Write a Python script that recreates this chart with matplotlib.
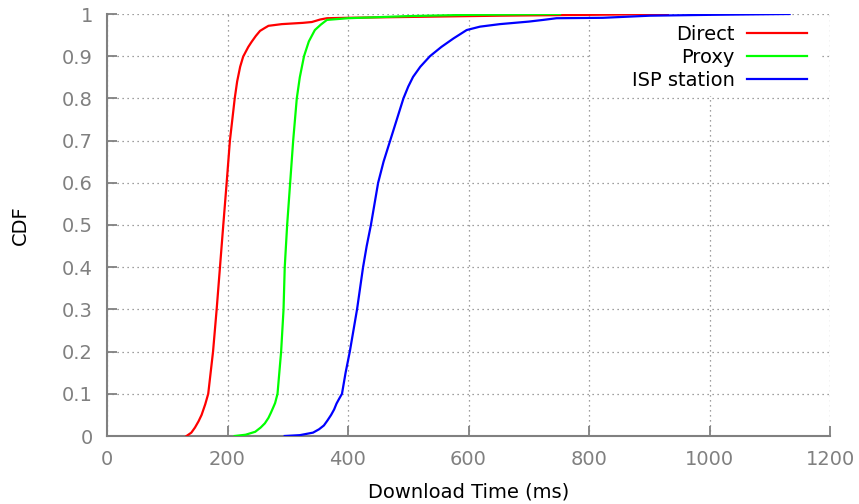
import matplotlib
matplotlib.use('Agg')
import matplotlib.pyplot as plt
from matplotlib.patches import Rectangle

# CDF curves (download time in ms, cumulative fraction)
direct_ms = [132, 140, 146, 152, 157, 163, 168, 172, 176, 182, 187.5, 193, 198.6, 204, 208,
             212, 216, 221, 226, 234.5, 240, 247, 254, 262, 268, 290, 325, 340, 354, 365,
             400, 500, 650, 800, 931]
direct_cdf = [0, 0.008, 0.02, 0.035, 0.05, 0.075, 0.1, 0.15, 0.2, 0.3, 0.4, 0.5, 0.6, 0.7,
              0.75, 0.8, 0.84, 0.875, 0.899, 0.922, 0.934, 0.948, 0.96, 0.967, 0.972, 0.976,
              0.979, 0.981, 0.987, 0.99, 0.991, 0.993, 0.996, 0.998, 1.0]

proxy_ms = [212, 230, 246, 255, 262, 268, 272, 276, 279, 283, 286, 289, 293, 295, 299, 304,
            309, 315, 320, 327, 335, 345, 355, 365, 400, 500, 600, 752]
proxy_cdf = [0, 0.003, 0.01, 0.02, 0.03, 0.043, 0.055, 0.068, 0.078, 0.1, 0.15, 0.2, 0.3,
             0.4, 0.5, 0.6, 0.7, 0.8, 0.85, 0.9, 0.935, 0.962, 0.975, 0.986, 0.99, 0.995,
             0.998, 1.0]

isp_ms = [295, 320, 342, 352, 360, 366, 372, 377, 381, 386, 390, 396, 403, 409, 415, 420,
          425, 431, 438, 444, 450, 459, 470, 481, 492, 500, 508, 520, 536, 555, 575, 597,
          619, 652, 700, 724, 746, 823, 901, 1000, 1133]
isp_cdf = [0, 0.002, 0.008, 0.016, 0.025, 0.037, 0.05, 0.063, 0.077, 0.09, 0.1, 0.15, 0.2,
           0.25, 0.3, 0.35, 0.4, 0.45, 0.5, 0.55, 0.6, 0.65, 0.7, 0.75, 0.8, 0.828, 0.851,
           0.875, 0.9, 0.922, 0.942, 0.962, 0.97, 0.976, 0.982, 0.986, 0.99, 0.991, 0.996,
           0.998, 1.0]

x_ticks = [0, 200, 400, 600, 800, 1000, 1200]
y_ticks = [0, 0.1, 0.2, 0.3, 0.4, 0.5, 0.6, 0.7, 0.8, 0.9, 1]
y_tick_labels = ['0', '0.1', '0.2', '0.3', '0.4', '0.5', '0.6', '0.7', '0.8', '0.9', '1']

gray = '#808080'
fs = 14

fig = plt.figure(figsize=(8.59, 5.04), dpi=100)
ax = fig.add_axes([107 / 859, 68 / 504, 723 / 859, 422 / 504])

ax.plot(direct_ms, direct_cdf, color='#ff0000', lw=1.6, label='Direct', zorder=3)
ax.plot(proxy_ms, proxy_cdf, color='#00ff00', lw=1.6, label='Proxy', zorder=3)
ax.plot(isp_ms, isp_cdf, color='#0000ff', lw=1.6, label='ISP station', zorder=3)

ax.set_xlim(0, 1200)
ax.set_ylim(0, 1)
ax.set_xticks(x_ticks)
ax.set_yticks(y_ticks)
ax.set_yticklabels(y_tick_labels)

ax.grid(True, color=gray, linestyle=(0, (1, 3)), linewidth=0.9, zorder=1)
for s in ['top', 'right']:
    ax.spines[s].set_visible(False)
for s in ['left', 'bottom']:
    ax.spines[s].set_color(gray)
    ax.spines[s].set_linewidth(1.5)
ax.tick_params(direction='in', length=7, width=1.3, color=gray,
               labelcolor=gray, labelsize=fs, pad=10)

ax.set_xlabel('Download Time (ms)', fontsize=fs, labelpad=9.5)
ax.set_ylabel('CDF', fontsize=fs)
ax.yaxis.set_label_coords(-0.106, 0.5)

# white key box hiding the grid behind the legend
ax.add_patch(Rectangle((0.669, 0.806), 0.317, 0.189, transform=ax.transAxes,
                       facecolor='white', edgecolor='none', zorder=2))

ax.legend(loc='upper right', bbox_to_anchor=(0.968, 0.975), frameon=False,
          fontsize=fs, markerfirst=False, handlelength=3.1, handletextpad=0.6,
          labelspacing=0.21, borderpad=0, borderaxespad=0)

fig.savefig('out.png', dpi=100)
